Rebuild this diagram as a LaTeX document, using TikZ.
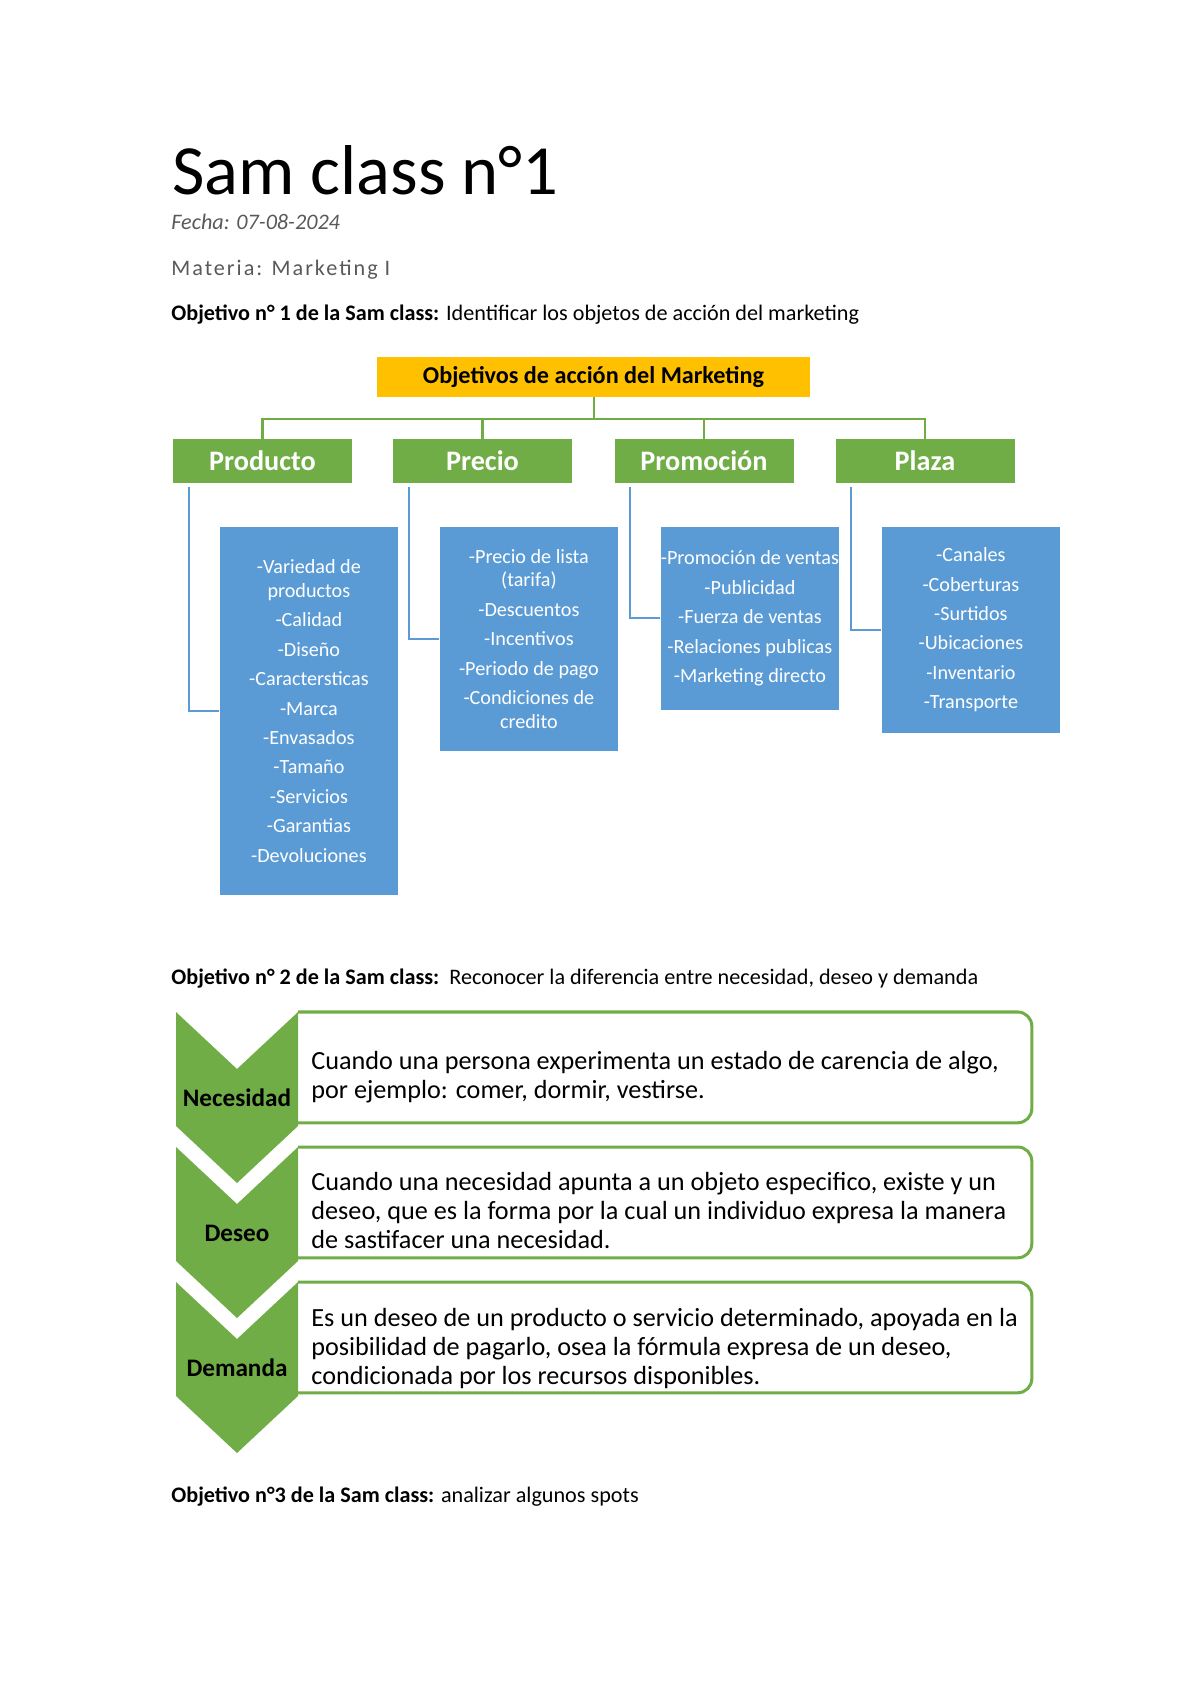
\documentclass[tikz,border=0pt]{standalone}
\usepackage{fontspec}
\setmainfont{Carlito}
\usetikzlibrary{positioning}

\newcommand\pxu{0.4961pt}
\definecolor{mkyellow}{HTML}{FFC000}
\definecolor{mkgreen}{HTML}{70AD47}
\definecolor{mkblue}{HTML}{5B9BD5}
\definecolor{subgray}{HTML}{595959}

\tikzset{
  plain/.style={anchor=base west,inner sep=0pt,font=\fontsize{11}{13}\selectfont},
  headbox/.style={fill=mkyellow,minimum width=433*\pxu,minimum height=40*\pxu,inner sep=0pt,
    font=\bfseries\fontsize{12}{14}\selectfont},
  catbox/.style={fill=mkgreen,text=white,minimum width=179*\pxu,minimum height=44*\pxu,inner sep=0pt,
    font=\bfseries\fontsize{14}{16}\selectfont},
  listbox/.style={fill=mkblue,draw=white,thin,text=white,align=center,anchor=north west,
    minimum width=179*\pxu,inner sep=0pt,font=\fontsize{10}{11.8}\selectfont},
  tree/.style={mkgreen,line width=1pt},
  link/.style={mkblue,line width=1pt},
  descframe/.style={anchor=north west,minimum width=733*\pxu,minimum height=110*\pxu,inner sep=0pt},
  frameline/.style={mkgreen,line width=1.5pt,rounded corners=7pt},
  chevlab/.style={anchor=base,inner sep=0pt,font=\bfseries\fontsize{12.5}{14}\selectfont},
  desc/.style={anchor=base west,align=left,inner sep=0pt,font=\fontsize{13}{14.2}\selectfont}
}

\begin{document}
\begin{tikzpicture}[x=\pxu,y=-\pxu]
\useasboundingbox (0,0) rectangle (1200,1696);

% heading
\node[plain,font=\fontsize{35}{40}\selectfont] (title) at (172,195) {Sam class n°1};
\node[plain,font=\itshape\fontsize{11}{13}\selectfont,text=subgray] (fecha) at (171,229) {Fecha: 07-08-2024};
\node[plain,font=\fontsize{11}{13}\selectfont\addfontfeature{LetterSpace=9},text=subgray] (materia) at (171,275) {Materia: Marketing I};
\node[plain] (obj1) at (171,320) {\textbf{Objetivo n° 1 de la Sam class:} Identificar los objetos de acción del marketing};

% objetivos de accion
\node[headbox] (head) at (593.5,377) {Objetivos de acción del Marketing};
\node[catbox] (prod) at (262.5,461) {Producto};
\node[catbox] (prec) at (482.5,461) {Precio};
\node[catbox] (prom) at (704,461) {Promoción};
\node[catbox] (plaz) at (925,461) {Plaza};

\draw[tree] (head.south) -- ++(0,22) coordinate (hub);
\foreach \c in {prod,prec,prom,plaz}
  \draw[tree] (hub) -| (\c.north);

\node[listbox,minimum height=369*\pxu] (prodlist) at (219,526) {-Variedad de\\productos\\[2.8pt]-Calidad\\[2.8pt]-Diseño\\[2.8pt]-Caractersticas\\[2.8pt]-Marca\\[2.8pt]-Envasados\\[2.8pt]-Tamaño\\[2.8pt]-Servicios\\[2.8pt]-Garantias\\[2.8pt]-Devoluciones};
\node[listbox,minimum height=225*\pxu] (preclist) at (439,526) {-Precio de lista\\(tarifa)\\[2.8pt]-Descuentos\\[2.8pt]-Incentivos\\[2.8pt]-Periodo de pago\\[2.8pt]-Condiciones de\\credito};
\node[listbox,minimum height=184*\pxu] (promlist) at (660,526) {-Promoción de ventas\\[2.8pt]-Publicidad\\[2.8pt]-Fuerza de ventas\\[2.8pt]-Relaciones publicas\\[2.8pt]-Marketing directo};
\node[listbox,minimum height=207*\pxu] (plazlist) at (881,526) {-Canales\\[2.8pt]-Coberturas\\[2.8pt]-Surtidos\\[2.8pt]-Ubicaciones\\[2.8pt]-Inventario\\[2.8pt]-Transporte};

\foreach \c in {prod,prec,prom,plaz}
  \draw[link] ([xshift=16*\pxu,yshift=-4*\pxu]\c.south west) |- (\c list.west);

% necesidad, deseo, demanda
\node[plain] (obj2) at (171,984) {\textbf{Objetivo n° 2 de la Sam class:}\ \ Reconocer la diferencia entre necesidad, deseo y demanda};

\foreach \t/\lab/\nm in {1012/Necesidad/nec,1147/Deseo/des,1282/Demanda/dem}{
  \fill[mkgreen] (176,\t) -- (237,\t+57) -- (298,\t) -- (298,\t+114) -- (237,\t+171) -- (176,\t+114) -- cycle;
  \node[chevlab] (\nm lab) at (237,\t+94) {\lab};
  \node[descframe] (\nm box) at (298,\t) {};
  \draw[frameline] (\nm box.north west) -- (\nm box.north east) -- (\nm box.south east) -- (\nm box.south west);
}

\node[desc] (nectext) at (311,1098) {Cuando una persona experimenta un estado de carencia de algo,\\por ejemplo: comer, dormir, vestirse.};
\node[desc] (destext) at (311,1248) {Cuando una necesidad apunta a un objeto especifico, existe y un\\deseo, que es la forma por la cual un individuo expresa la manera\\de sastifacer una necesidad.};
\node[desc] (demtext) at (311,1384) {Es un deseo de un producto o servicio determinado, apoyada en la\\posibilidad de pagarlo, osea la fórmula expresa de un deseo,\\condicionada por los recursos disponibles.};

\node[plain] (obj3) at (171,1502) {\textbf{Objetivo n°3 de la Sam class:} analizar algunos spots};
\end{tikzpicture}
\end{document}
